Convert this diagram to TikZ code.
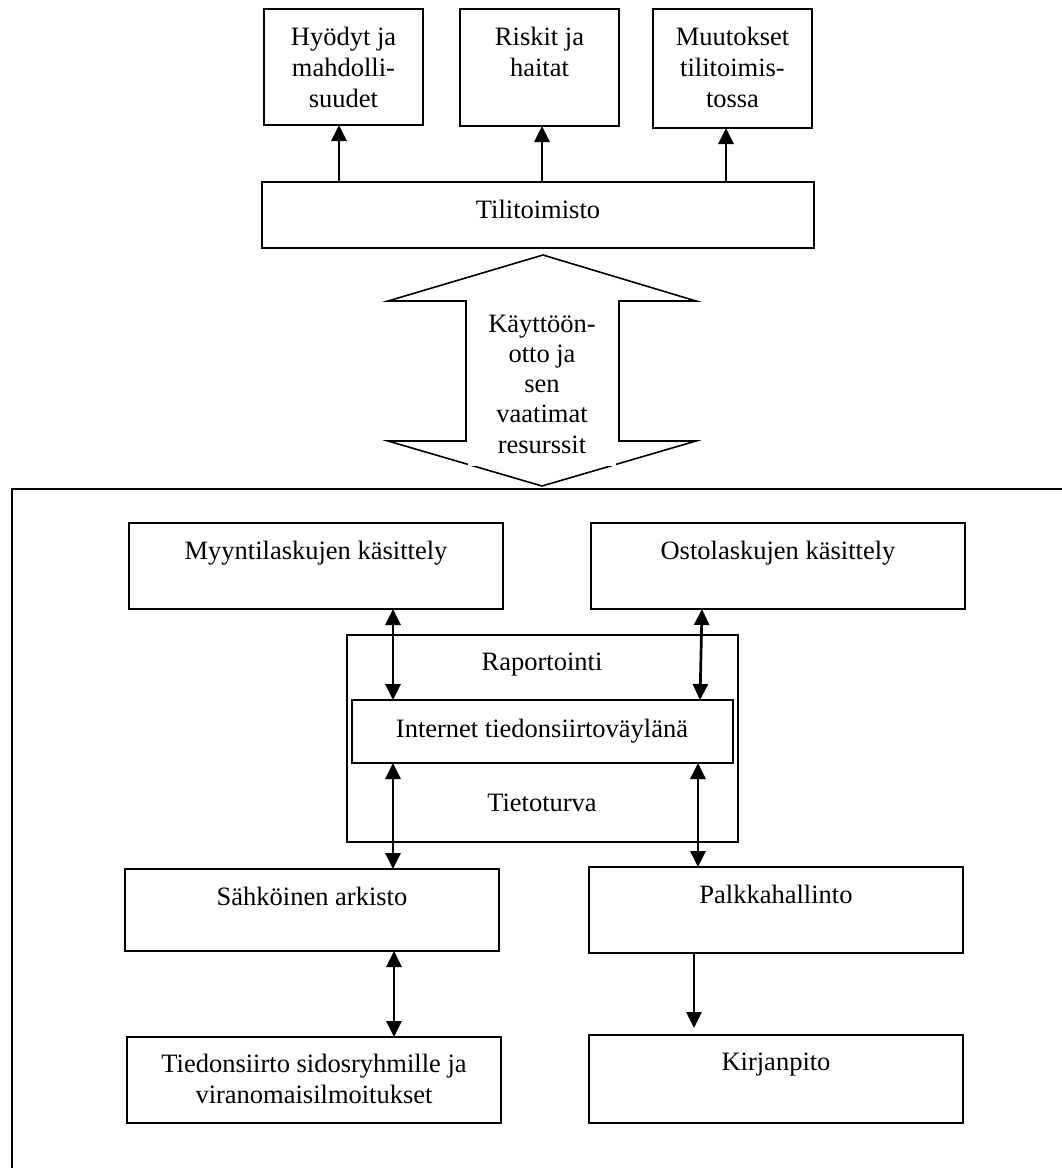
\documentclass[tikz,border=0pt]{standalone}
\usepackage{fontspec}
\setmainfont{Liberation Serif}
\usetikzlibrary{arrows.meta}
\tikzset{
  box/.style={draw, line width=1.8pt, inner sep=0pt, outer sep=0pt},
  txt/.style={font=\fontsize{26.5}{31}\selectfont, inner sep=0pt, outer sep=0pt, align=center, anchor=north},
  arr/.style={line width=2.7pt, -{Triangle[length=16pt,width=15pt]}},
  dbl/.style={line width=2.7pt, {Triangle[length=16pt,width=15pt]}-{Triangle[length=16pt,width=15pt]}},
}
\newcommand{\tl}[1]{\rule{0pt}{24pt}#1}
\begin{document}
\begin{tikzpicture}[x=1pt,y=-1pt]
\useasboundingbox (0,0) rectangle (1062,1168);

% top boxes
\node[box, minimum width=159pt, minimum height=116pt] (hyo) at (343.5,67) {};
\node[box, minimum width=159pt, minimum height=117pt] (ris) at (539.5,67.5) {};
\node[box, minimum width=159pt, minimum height=119pt] (muu) at (732.5,68.5) {};
\node[txt] (thyo) at (343.5,21) {\tl{Hyödyt ja}\\mahdolli-\\suudet};
\node[txt] (tris) at (539.5,21) {\tl{Riskit ja}\\haitat};
\node[txt] (tmuu) at (732.5,21) {\tl{Muutokset}\\tilitoimis-\\tossa};

\node[box, minimum width=552pt, minimum height=66pt] (tili) at (538,215) {};
\node[txt] (ttili) at (538,194) {\tl{Tilitoimisto}};

\draw[arr] (339,0 |- tili.north) -- (339,0 |- hyo.south);
\draw[arr] (542,0 |- tili.north) -- (542,0 |- ris.south);
\draw[arr] (726,0 |- tili.north) -- (726,0 |- muu.south);

% big double arrow
\draw[line width=1.6pt, line join=miter] (543,255) -- (696,301) -- (619,301) -- (619,441) -- (696,441)
  -- (542,486) -- (388,441) -- (466,441) -- (466,301) -- (388,301) -- cycle;
\fill[white] (468,445) rectangle (616,466);
\node[txt, font=\fontsize{26.5}{30.3}\selectfont] (tarrow) at (542,308) {\tl{Käyttöön-}\\otto ja\\sen\\vaatimat\\resurssit};

% frame
\draw[line width=2.2pt] (12,1180) -- (12,489) -- (1080,489);

% middle boxes
\node[box, minimum width=374pt, minimum height=86pt] (myy) at (316,566) {};
\node[box, minimum width=374pt, minimum height=86pt] (ost) at (778,566) {};
\node[txt] (tmyy) at (316,535) {\tl{Myyntilaskujen käsittely}};
\node[txt] (tost) at (778,535) {\tl{Ostolaskujen käsittely}};

\node[box, minimum width=391pt, minimum height=207pt] (rap) at (542.5,738.5) {};
\node[box, minimum width=381pt, minimum height=63pt] (int) at (542.5,731.5) {};
\node[txt] (trap) at (542,646) {\tl{Raportointi}};
\node[txt] (tint) at (542,713) {\tl{Internet tiedonsiirtoväylänä}};
\node[txt] (ttie) at (542,787) {\tl{Tietoturva}};

\node[box, minimum width=374pt, minimum height=82pt] (sah) at (312,910) {};
\node[box, minimum width=374pt, minimum height=86pt] (pal) at (776,910) {};
\node[txt] (tsah) at (312,881) {\tl{Sähköinen arkisto}};
\node[txt] (tpal) at (776,879) {\tl{Palkkahallinto}};

\node[box, minimum width=374pt, minimum height=86pt] (tie) at (314,1080) {};
\node[box, minimum width=374pt, minimum height=88pt] (kir) at (776,1079) {};
\node[txt] (ttied) at (314,1048) {\tl{Tiedonsiirto sidosryhmille ja}\\viranomaisilmoitukset};
\node[txt] (tkir) at (776,1046) {\tl{Kirjanpito}};

% connectors
\draw[dbl] (393,0 |- myy.south) -- (393,0 |- int.north);
\draw[dbl] (702,0 |- ost.south) -- (700,0 |- int.north);
\draw[dbl] (393,0 |- int.south) -- (393,0 |- sah.north);
\draw[dbl] (698,0 |- int.south) -- (698,0 |- pal.north);
\draw[dbl] (394,0 |- sah.south) -- (394,0 |- tie.north);
\draw[arr, shorten >=7pt] (694,0 |- pal.south) -- (694,0 |- kir.north);
\end{tikzpicture}
\end{document}
